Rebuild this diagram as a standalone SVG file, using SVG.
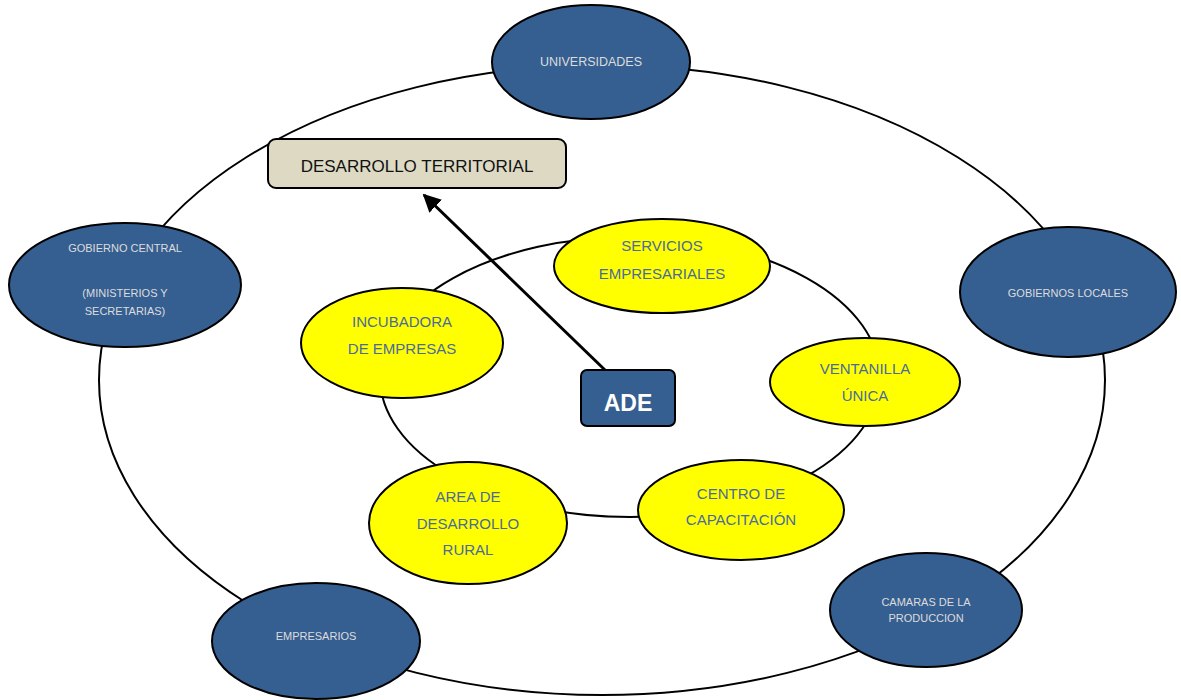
<svg xmlns="http://www.w3.org/2000/svg" width="1181" height="700" viewBox="0 0 1181 700">
<defs>
<style>
.ring{fill:none;stroke:#000;stroke-width:2}
.blue{fill:#365f91;stroke:#000;stroke-width:2}
.yel{fill:#ffff00;stroke:#000;stroke-width:2}
.bt{font-family:"Liberation Sans",Arial,sans-serif;font-size:11px;fill:#dcdcdc;text-anchor:middle}
.yt{font-family:"Liberation Sans",Arial,sans-serif;font-size:15px;fill:#4a6b9c;text-anchor:middle}
</style>
<marker id="ah" viewBox="0 0 10 10" refX="9" refY="5" markerWidth="6" markerHeight="6" orient="auto" markerUnits="strokeWidth">
<path d="M0,0 L10,5 L0,10 z" fill="#000"/>
</marker>
</defs>
<rect width="1181" height="700" fill="#fff"/>
<g id="connectors">
<ellipse class="ring" cx="602" cy="380" rx="503" ry="315"/>
<ellipse class="ring" cx="630" cy="377" rx="250" ry="140"/>
<line x1="605" y1="370" x2="424" y2="195" stroke="#000" stroke-width="3" marker-end="url(#ah)"/>
</g>
<g id="universidades"><ellipse class="blue" cx="591" cy="62" rx="99" ry="57"/><text class="bt" x="591" y="66" style="font-size:12.5px">UNIVERSIDADES</text></g>
<g id="gobierno-central"><ellipse class="blue" cx="125" cy="285" rx="116" ry="62"/><text class="bt" x="125" y="252">GOBIERNO CENTRAL</text><text class="bt" x="125" y="297">(MINISTERIOS Y</text><text class="bt" x="125" y="315">SECRETARIAS)</text></g>
<g id="gobiernos-locales"><ellipse class="blue" cx="1068" cy="292" rx="108" ry="65"/><text class="bt" x="1068" y="297">GOBIERNOS LOCALES</text></g>
<g id="camaras"><ellipse class="blue" cx="926" cy="610" rx="96" ry="57"/><text class="bt" x="926" y="606">CAMARAS DE LA</text><text class="bt" x="926" y="622">PRODUCCION</text></g>
<g id="empresarios"><ellipse class="blue" cx="316" cy="641" rx="104" ry="58"/><text class="bt" x="316" y="640">EMPRESARIOS</text></g>
<g id="desarrollo-territorial"><rect x="268" y="139" width="298" height="49" rx="8" fill="#ddd9c3" stroke="#000" stroke-width="2"/><text x="417" y="172" font-family="'Liberation Sans',Arial,sans-serif" font-size="17" fill="#111" text-anchor="middle">DESARROLLO TERRITORIAL</text></g>
<g id="servicios"><ellipse class="yel" cx="662" cy="266" rx="108" ry="47"/><text class="yt" x="662" y="251">SERVICIOS</text><text class="yt" x="662" y="279">EMPRESARIALES</text></g>
<g id="incubadora"><ellipse class="yel" cx="402" cy="343" rx="101" ry="55"/><text class="yt" x="402" y="327">INCUBADORA</text><text class="yt" x="402" y="354">DE EMPRESAS</text></g>
<g id="ventanilla"><ellipse class="yel" cx="865" cy="382" rx="95" ry="44"/><text class="yt" x="865" y="374">VENTANILLA</text><text class="yt" x="865" y="401">ÚNICA</text></g>
<g id="centro"><ellipse class="yel" cx="741" cy="510" rx="103" ry="50"/><text class="yt" x="741" y="499">CENTRO DE</text><text class="yt" x="741" y="525">CAPACITACIÓN</text></g>
<g id="area-rural"><ellipse class="yel" cx="468" cy="523" rx="99" ry="61"/><text class="yt" x="468" y="502">AREA DE</text><text class="yt" x="468" y="529">DESARROLLO</text><text class="yt" x="468" y="555">RURAL</text></g>
<g id="ade"><rect x="581" y="370" width="94" height="56" rx="6" fill="#365f91" stroke="#000" stroke-width="2"/><text x="628" y="411" font-family="'Liberation Sans',Arial,sans-serif" font-size="23" font-weight="bold" fill="#fff" text-anchor="middle">ADE</text></g>
</svg>
